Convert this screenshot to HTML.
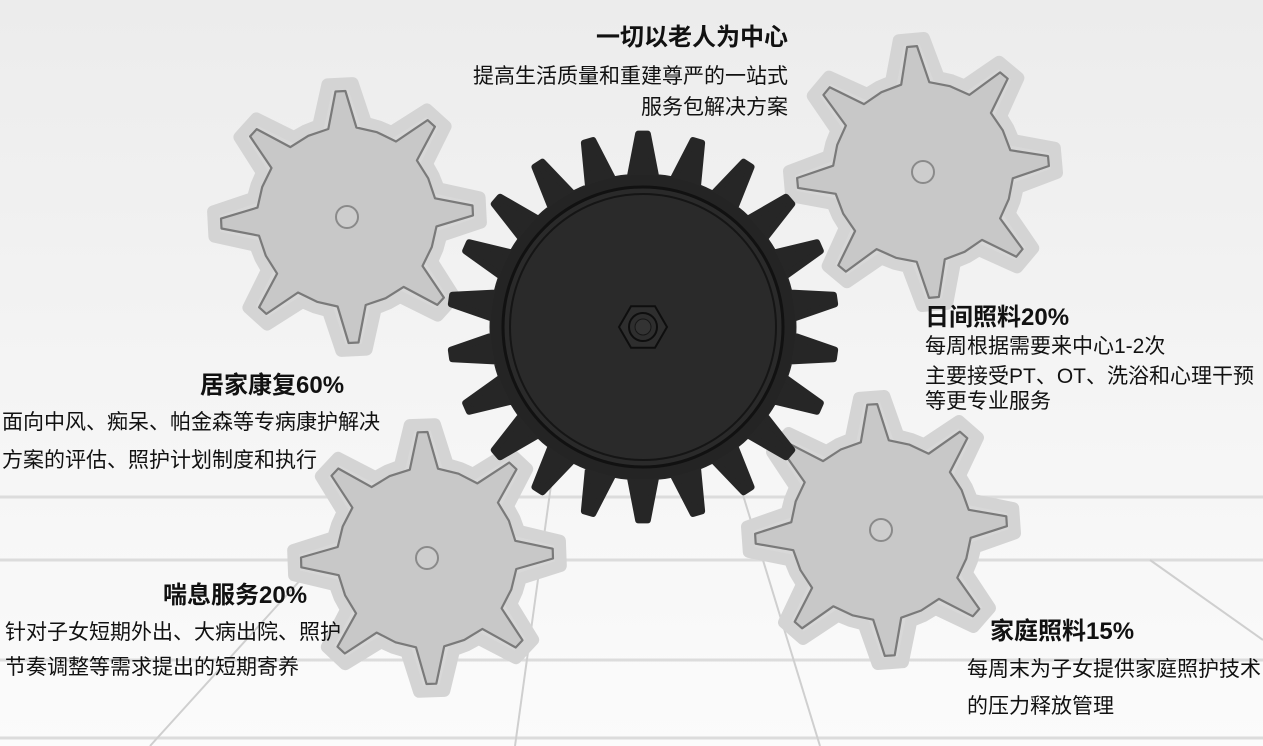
<!DOCTYPE html>
<html><head><meta charset="utf-8">
<style>
html,body{margin:0;padding:0}
body{width:1263px;height:746px;position:relative;overflow:hidden;background:#f2f2f2;font-family:"Liberation Sans","Noto Sans CJK SC",sans-serif;color:#111}
svg{position:absolute;left:0;top:0}
.t{position:absolute;white-space:nowrap;font-size:21px;line-height:24px}
.h{position:absolute;white-space:nowrap;font-size:24px;font-weight:bold;line-height:28px}
</style></head><body>
<svg id="s" width="1263" height="746" viewBox="0 0 1263 746">
<defs>
<linearGradient id="bg" x1="0" y1="0" x2="0" y2="1">
<stop offset="0" stop-color="#ececec"/><stop offset="0.5" stop-color="#f4f4f4"/><stop offset="1" stop-color="#fbfbfb"/>
</linearGradient>
</defs>
<rect width="1263" height="746" fill="url(#bg)"/>
<g stroke="#dcdcdc" stroke-width="3" fill="none">
<line x1="0" y1="497" x2="1263" y2="497"/>
<line x1="0" y1="560" x2="1263" y2="560"/>
<line x1="0" y1="660" x2="1263" y2="660"/>
<line x1="0" y1="738" x2="1263" y2="738"/>
</g>
<g stroke="#cfcfcf" stroke-width="2" fill="none">
<line x1="560" y1="420" x2="515" y2="746"/>
<line x1="720" y1="420" x2="820" y2="746"/>
<line x1="400" y1="470" x2="150" y2="746"/>
<line x1="1150" y1="560" x2="1263" y2="640"/>
</g>
<g id="gears"></g>
</svg>

<div class="h" style="right:475px;top:24px">一切以老人为中心</div>
<div class="t" style="right:475px;top:65px">提高生活质量和重建尊严的一站式</div>
<div class="t" style="right:475px;top:96px">服务包解决方案</div>

<div class="h" style="left:925px;top:304px">日间照料20%</div>
<div class="t" style="left:925px;top:335px">每周根据需要来中心1-2次</div>
<div class="t" style="left:925px;top:365px">主要接受PT、OT、洗浴和心理干预</div>
<div class="t" style="left:925px;top:390px">等更专业服务</div>

<div class="h" style="left:200px;top:372px">居家康复60%</div>
<div class="t" style="left:2px;top:411px">面向中风、痴呆、帕金森等专病康护解决</div>
<div class="t" style="left:2px;top:449px">方案的评估、照护计划制度和执行</div>

<div class="h" style="left:163px;top:582px">喘息服务20%</div>
<div class="t" style="left:5px;top:621px">针对子女短期外出、大病出院、照护</div>
<div class="t" style="left:5px;top:656px">节奏调整等需求提出的短期寄养</div>

<div class="h" style="left:990px;top:618px">家庭照料15%</div>
<div class="t" style="left:967px;top:658px">每周末为子女提供家庭照护技术</div>
<div class="t" style="left:967px;top:695px">的压力释放管理</div>

<script>
function gearPath(cx,cy,n,rt,rr,rotDeg,tw,bw){
  var p=2*Math.PI/n,rot=rotDeg*Math.PI/180,d="";
  for(var i=0;i<n;i++){
    var a=rot+i*p;
    var pts=[[a-p/2,rr],[a-bw*p,rr],[a-tw*p,rt],[a+tw*p,rt],[a+bw*p,rr]];
    pts.forEach(function(q,j){
      var x=cx+q[1]*Math.cos(q[0]),y=cy+q[1]*Math.sin(q[0]);
      d+=(i==0&&j==0?"M":"L")+x.toFixed(1)+" "+y.toFixed(1)+" ";
    });
  }
  return d+"Z";
}
var g=document.getElementById("gears"),h="";
var greys=[[347,217,-3],[923,172,-5],[427,558,-2],[881,530,-4]];
greys.forEach(function(c){
  h+='<path d="'+gearPath(c[0],c[1],8,134,96,c[2],0.12,0.32)+'" fill="#d8d8d8" stroke="#d4d4d4" stroke-width="12" stroke-linejoin="round"/>';
  h+='<path d="'+gearPath(c[0],c[1],8,126,90,c[2],0.05,0.2)+'" fill="#c8c8c8" stroke="#7a7a7a" stroke-width="2.2" stroke-linejoin="round"/>';
  h+='<circle cx="'+c[0]+'" cy="'+c[1]+'" r="11" fill="#cdcdcd" stroke="#8a8a8a" stroke-width="2"/>';
});
var cx=643,cy=327;
h+='<path d="'+gearPath(cx,cy,22,193,150,-90,0.08,0.3)+'" fill="#262626" stroke="#262626" stroke-width="7" stroke-linejoin="round"/>';
h+='<circle cx="'+cx+'" cy="'+cy+'" r="152" fill="#242424"/>';
h+='<circle cx="'+cx+'" cy="'+cy+'" r="140" fill="#2a2a2a" stroke="#111" stroke-width="3"/>';
h+='<circle cx="'+cx+'" cy="'+cy+'" r="133" fill="none" stroke="#151515" stroke-width="2"/>';
var hx="";for(var k=0;k<6;k++){var a=k*Math.PI/3;hx+=(cx+24*Math.cos(a)).toFixed(1)+","+(cy+24*Math.sin(a)).toFixed(1)+" ";}
h+='<polygon points="'+hx+'" fill="#2e2e2e" stroke="#0e0e0e" stroke-width="2"/>';
h+='<circle cx="'+cx+'" cy="'+cy+'" r="14" fill="#2e2e2e" stroke="#0e0e0e" stroke-width="2"/>';
h+='<circle cx="'+cx+'" cy="'+cy+'" r="8" fill="#333" stroke="#161616" stroke-width="1"/>';
g.innerHTML=h;
</script>
</body></html>
